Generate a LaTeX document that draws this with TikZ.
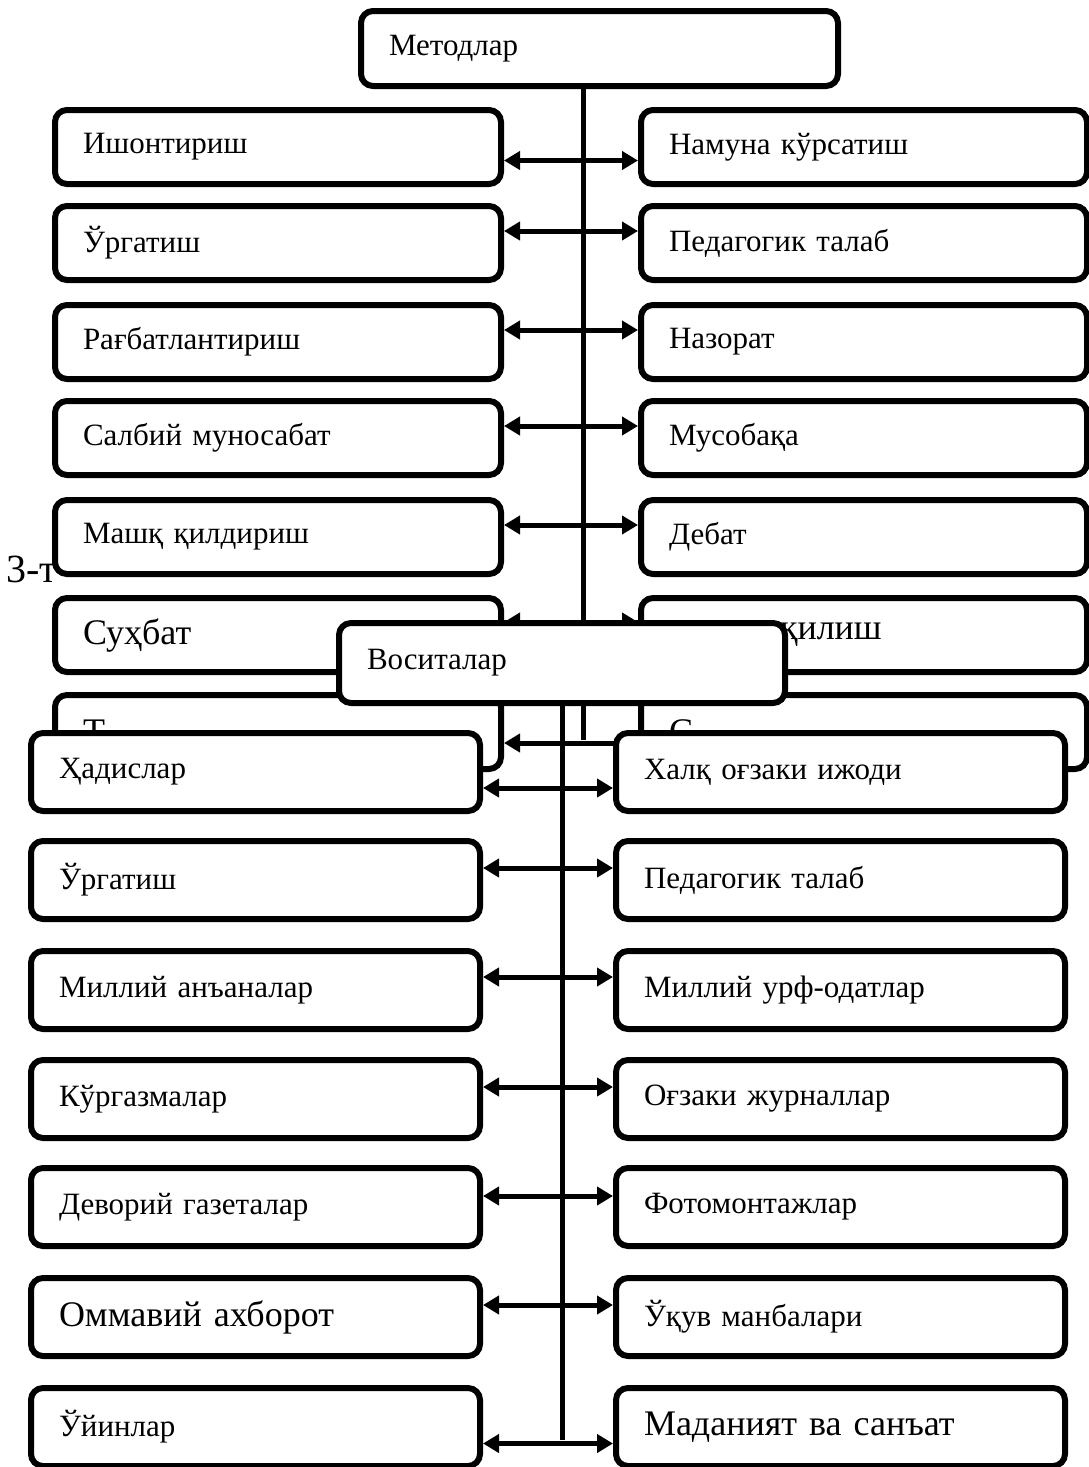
\documentclass[tikz,border=0pt]{standalone}
\usepackage{fontspec}
\setmainfont{Liberation Serif}
\usetikzlibrary{arrows.meta}

\begin{document}
\begin{tikzpicture}[
  x=0.5pt, y=-0.5pt,
  every node/.style={font=\fontsize{15.5}{18}\selectfont},
  big/.style={font=\fontsize{18}{21}\selectfont},
  mbox/.style={rectangle, draw=black, fill=white, line width=3pt,
               rounded corners=6pt, anchor=north west, inner xsep=14pt,
               inner ysep=0pt, align=left, text width=195pt,
               minimum height=37pt},
  vbox/.style={mbox, text width=196.5pt, minimum height=39pt},
  headbox/.style={mbox, text width=210.5pt, minimum height=37.5pt},
  arr/.style={{Triangle[length=8pt,width=9pt]}-{Triangle[length=8pt,width=9pt]},
              line width=2.5pt},
  trunk/.style={line width=2.5pt},
]
\useasboundingbox (0,0) rectangle (1088,1467);

% text behind the first chart
\node[anchor=base west, inner sep=0pt, font=\fontsize{20}{24}\selectfont]
  (cap) at (6,582) {3-т};

% Методлар
\node[headbox] (M) at (358,8) {Методлар};
\coordinate (MT) at (583,740);
\draw[trunk] (M.south -| MT) -- (MT);

\node[mbox] (ML1) at (52,107) {Ишонтириш};
\node[mbox] (ML2) at (52,203) {Ўргатиш};
\node[mbox] (ML3) at (52,302) {Рағбатлантириш};
\node[mbox] (ML4) at (52,398) {Салбий муносабат};
\node[mbox] (ML5) at (52,497) {Машқ қилдириш};
\node[mbox, big] (ML6) at (52,595) {Суҳбат};
\node[mbox, big] (ML7) at (52,692) {Т};

\node[mbox] (MR1) at (638,107) {Намуна кўрсатиш};
\node[mbox] (MR2) at (638,203) {Педагогик талаб};
\node[mbox] (MR3) at (638,302) {Назорат};
\node[mbox] (MR4) at (638,398) {Мусобақа};
\node[mbox] (MR5) at (638,497) {Дебат};
\node[mbox, big] (MR6) at (638,595) {\hspace*{55.5pt}қилиш};
\node[mbox, big] (MR7) at (638,692) {С};

\draw[arr] ([yshift=-6.75pt]ML1.east) -- ([yshift=-6.75pt]MR1.west);
\draw[arr] ([yshift=6pt]ML2.east) -- ([yshift=6pt]MR2.west);
\draw[arr] ([yshift=6pt]ML3.east) -- ([yshift=6pt]MR3.west);
\draw[arr] ([yshift=6pt]ML4.east) -- ([yshift=6pt]MR4.west);
\draw[arr] ([yshift=6pt]ML5.east) -- ([yshift=6pt]MR5.west);
\draw[arr] ([yshift=6.5pt]ML6.east) -- ([yshift=6.5pt]MR6.west);
\draw[arr] ([yshift=-5.5pt]ML7.east) -- ([yshift=-5.5pt]MR7.west);

% Воситалар
\node[mbox, minimum height=40pt] (V) at (336,620) {Воситалар};
\coordinate (VT) at (562,1440);
\draw[trunk] (V.south -| VT) -- (VT);

\node[vbox] (VL1) at (28,730) {Ҳадислар};
\node[vbox] (VL2) at (28,838) {Ўргатиш};
\node[vbox] (VL3) at (28,948) {Миллий анъаналар};
\node[vbox] (VL4) at (28,1057) {Кўргазмалар};
\node[vbox] (VL5) at (28,1165) {Деворий газеталар};
\node[vbox, big] (VL6) at (28,1275) {Оммавий ахборот};
\node[vbox] (VL7) at (28,1385) {Ўйинлар};

\node[vbox] (VR1) at (613,730) {Халқ оғзаки ижоди};
\node[vbox] (VR2) at (613,838) {Педагогик талаб};
\node[vbox] (VR3) at (613,948) {Миллий урф-одатлар};
\node[vbox] (VR4) at (613,1057) {Оғзаки журналлар};
\node[vbox] (VR5) at (613,1165) {Фотомонтажлар};
\node[vbox] (VR6) at (613,1275) {Ўқув манбалари};
\node[vbox, big] (VR7) at (613,1385) {Маданият ва санъат};

\draw[arr] ([yshift=-8pt]VL1.east) -- ([yshift=-8pt]VR1.west);
\draw[arr] ([yshift=6pt]VL2.east) -- ([yshift=6pt]VR2.west);
\draw[arr] ([yshift=6.5pt]VL3.east) -- ([yshift=6.5pt]VR3.west);
\draw[arr] ([yshift=6pt]VL4.east) -- ([yshift=6pt]VR4.west);
\draw[arr] ([yshift=5.5pt]VL5.east) -- ([yshift=5.5pt]VR5.west);
\draw[arr] ([yshift=6pt]VL6.east) -- ([yshift=6pt]VR6.west);
\draw[arr] ([yshift=-8.25pt]VL7.east) -- ([yshift=-8.25pt]VR7.west);

\end{tikzpicture}
\end{document}
